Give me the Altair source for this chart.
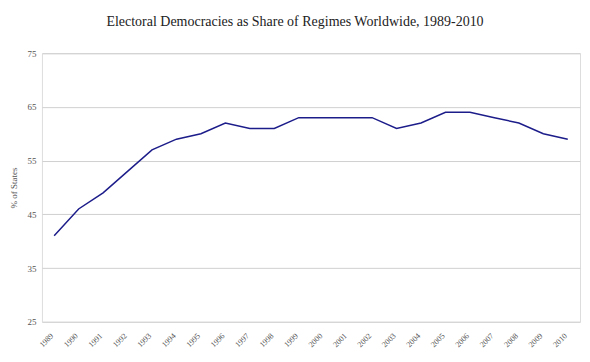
import altair as alt
import pandas as pd

years = [str(y) for y in range(1989, 2011)]
share = [41, 46, 49, 53, 57, 59, 60, 62, 61, 61, 63, 63, 63, 63, 61, 62, 64, 64, 63, 62, 60, 59]
y_ticks = [25, 35, 45, 55, 65, 75]

df = pd.DataFrame({"year": years, "share": share})

FONT = "Georgia, Liberation Serif, serif"

chart = alt.Chart(df).mark_line(color="#1c1c8a", strokeWidth=1.5).encode(
    x=alt.X("year:O", sort=years,
            scale=alt.Scale(type="point", padding=0.5),
            axis=alt.Axis(title=None, labelAngle=-45, labelFontSize=8, labelColor="#555",
                          labelFont=FONT, ticks=False, domain=False, grid=False, gridOpacity=0,
                          labelPadding=10, labelOffset=-5)),
    y=alt.Y("share:Q", scale=alt.Scale(domain=[25, 75], nice=False, zero=False),
            axis=alt.Axis(title="% of States", values=y_ticks, labelFontSize=9, labelColor="#555",
                          labelFont=FONT, titleFont=FONT, titleFontSize=9, titleFontWeight="normal",
                          titleColor="#555", titlePadding=8, ticks=False, domain=False,
                          labelPadding=6, gridColor="#d0d0d0")),
).properties(
    width=539, height=269,
    title=alt.TitleParams("Electoral Democracies as Share of Regimes Worldwide, 1989-2010",
                          font=FONT, fontSize=14, fontWeight="normal", color="#222",
                          offset=20, dx=-16),
    autosize=alt.AutoSizeParams(type="none"),
    padding={"left": 34, "top": 45, "right": 2, "bottom": 40},
).configure_view(stroke=None).configure_axisX(grid=False).configure(background="white")

chart.save("out.html", embed_options={"renderer": "svg", "actions": False})
